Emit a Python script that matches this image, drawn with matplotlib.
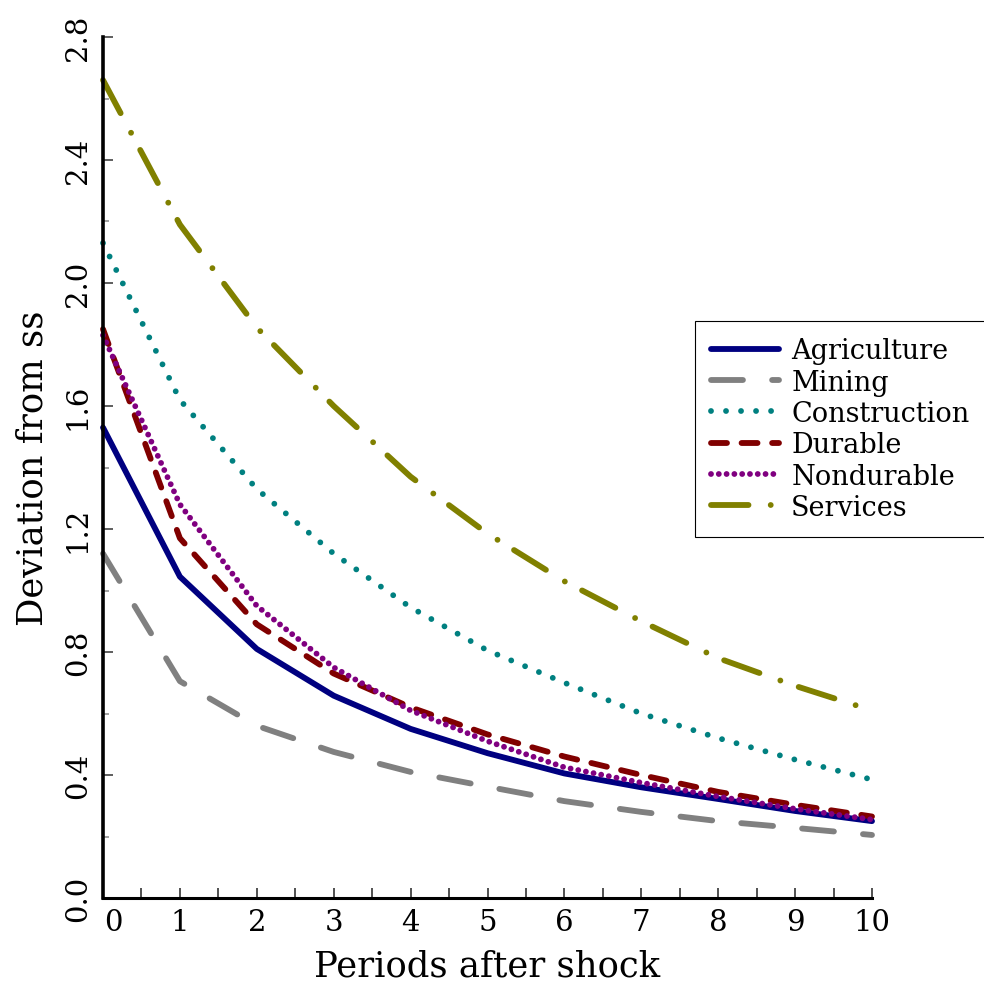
import matplotlib
matplotlib.use("Agg")
import matplotlib.pyplot as plt
import matplotlib.transforms as mtransforms
import numpy as np

# ---- data ----
periods = [0, 1, 2, 3, 4, 5, 6, 7, 8, 9, 10]
agriculture = [1.53, 1.045, 0.81, 0.658, 0.55, 0.471, 0.405, 0.36, 0.322, 0.283, 0.25]
mining = [1.12, 0.705, 0.56, 0.475, 0.41, 0.362, 0.315, 0.28, 0.25, 0.228, 0.205]
construction = [2.13, 1.62, 1.33, 1.12, 0.945, 0.805, 0.70, 0.60, 0.52, 0.45, 0.385]
durable = [1.85, 1.17, 0.89, 0.73, 0.62, 0.532, 0.46, 0.40, 0.345, 0.303, 0.265]
nondurable = [1.83, 1.28, 0.95, 0.75, 0.61, 0.51, 0.425, 0.375, 0.33, 0.29, 0.255]
services = [2.66, 2.19, 1.855, 1.60, 1.37, 1.185, 1.03, 0.90, 0.78, 0.69, 0.61]

series_names = ["Agriculture", "Mining", "Construction", "Durable", "Nondurable", "Services"]
x_tick_labels = ["0", "1", "2", "3", "4", "5", "6", "7", "8", "9", "10"]
y_ticks = [0.0, 0.4, 0.8, 1.2, 1.6, 2.0, 2.4, 2.8]
x_label = "Periods after shock"
y_label = "Deviation from ss"

# ---- style ----
plt.rcParams["lines.scale_dashes"] = False
plt.rcParams["font.family"] = ["DejaVu Serif"]

colors = ["#000080", "#808080", "#008080", "#800000", "#800080", "#808000"]
styles = [
    "-",
    (0, (23.0, 21.0)),
    (0, (0.01, 10.8)),
    (0, (11.5, 10.5)),
    (0, (0.01, 5.6)),
    (0, (27.0, 16.0, 0.01, 14.0)),
]
lw = 4.2

fig = plt.figure(figsize=(9.84, 9.95), dpi=100)
ax = fig.add_axes([103 / 984, 1 - 899 / 995, (872 - 103) / 984, (899 - 38) / 995])

data = [agriculture, mining, construction, durable, nondurable, services]
for name, vals, c, ls in zip(series_names, data, colors, styles):
    ax.plot(periods, vals, color=c, linestyle=ls, linewidth=lw,
            dash_capstyle="round", solid_capstyle="round",
            solid_joinstyle="round", dash_joinstyle="round",
            clip_on=False, label=name)

ax.set_xlim(0, 10)
ax.set_ylim(0, 2.8)

for s in ["top", "right"]:
    ax.spines[s].set_visible(False)
ax.spines["left"].set_linewidth(2.6)
ax.spines["bottom"].set_linewidth(2.2)

# x ticks
ax.set_xticks(periods)
ax.set_xticklabels(x_tick_labels)
ax.set_xticks(np.arange(0.5, 10, 1.0), minor=True)
ax.tick_params(axis="x", which="both", direction="in", length=7, width=1.1,
               color="#222222")
ax.tick_params(axis="x", which="major", labelsize=21, pad=7)

# y ticks
ax.set_yticks(y_ticks)
ax.set_yticklabels([f"{v:.1f}" for v in y_ticks], rotation=90, va="center")
ax.set_yticks(np.arange(0.2, 2.8, 0.4), minor=True)
ax.tick_params(axis="y", which="major", direction="in", length=7, width=1.1,
               color="#333333", labelsize=21, pad=8)
ax.tick_params(axis="y", which="minor", direction="in", length=4.5, width=1.1,
               color="#888888")

# shift the "0" label off the y axis
lab0 = ax.get_xticklabels()[0]
lab0.set_transform(lab0.get_transform() +
                   mtransforms.ScaledTranslation(10 / 100, 0, fig.dpi_scale_trans))

ax.set_xlabel(x_label, fontsize=25.5)
ax.xaxis.set_label_coords(487.5 / 984, 1 - 950 / 995, transform=fig.transFigure)
ax.set_ylabel(y_label, fontsize=25.5)
ax.yaxis.set_label_coords(50 / 984, 1 - 468 / 995, transform=fig.transFigure)

leg = ax.legend(loc="upper left", bbox_to_anchor=(695 / 984, 1 - 322 / 995),
                bbox_transform=fig.transFigure, borderaxespad=0,
                fontsize=19.5, handlelength=2.5, handletextpad=0.45,
                labelspacing=0.16, borderpad=0.6, fancybox=False,
                framealpha=1, edgecolor="black")
leg.get_frame().set_linewidth(0.8)

fig.savefig("out.png", dpi=100)
